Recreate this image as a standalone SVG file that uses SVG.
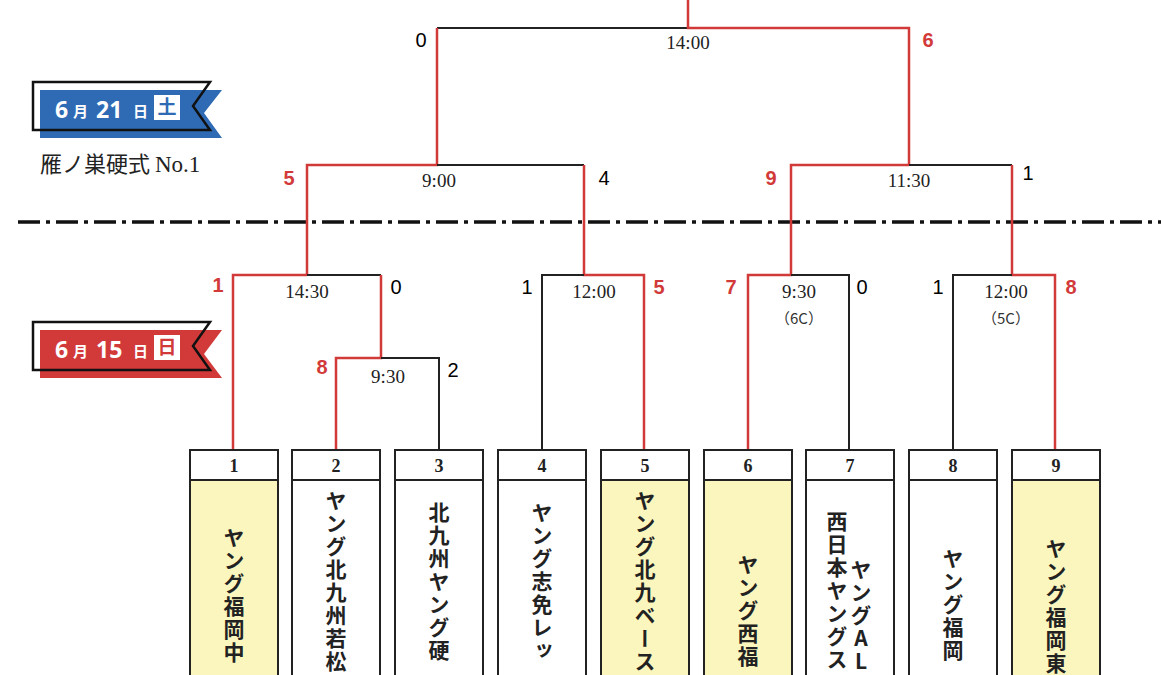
<svg xmlns="http://www.w3.org/2000/svg" width="1161" height="675" viewBox="0 0 1161 675">
<style>
.r{stroke:#d23a3a;stroke-width:2.5;fill:none}
.k{stroke:#222;stroke-width:2;fill:none}
.sc{font-family:"Liberation Sans",sans-serif;font-size:20px;text-anchor:middle}
.sr{fill:#d23a3a;font-weight:bold}
.tm{font-family:"Liberation Serif",serif;font-size:19px;text-anchor:middle;fill:#222}
.cc{font-family:"Noto Sans CJK JP",sans-serif;font-size:15px;text-anchor:middle;fill:#333}
.box{stroke:#222;stroke-width:2}
.num{font-family:"Liberation Serif",serif;font-size:18px;text-anchor:middle;font-weight:bold;fill:#222}
.vt{font-family:"Noto Sans CJK JP",sans-serif;font-size:21px;font-weight:bold;writing-mode:vertical-rl;text-orientation:upright;fill:#222;letter-spacing:2px}
.bn{font-family:"Open Sans","Noto Sans CJK JP",sans-serif;font-weight:bold;fill:#fff}
</style>
<rect width="1161" height="675" fill="#fff"/>
<g id="banner-top">
<path d="M40 90 H222 L204 113 L222 138 H40 Z" fill="#2f6bb5"/>
<path d="M33 82 H210 L193 106 L210 130 H33 Z" fill="none" stroke="#111" stroke-width="2.5"/>
<text class="bn" x="55" y="118" font-size="23">6</text>
<text class="bn" x="73" y="117" font-size="15">月</text>
<text class="bn" x="96" y="118" font-size="23">21</text>
<text class="bn" x="133" y="117" font-size="15">日</text>
<rect x="154" y="95" width="26" height="25" fill="#fff"/>
<text x="167" y="114" font-family="Noto Sans CJK JP,sans-serif" font-weight="bold" font-size="19" fill="#2f6bb5" text-anchor="middle">土</text>
<text x="40" y="172" font-family="Noto Sans CJK JP,serif" font-size="22" fill="#222">雁ノ巣硬式 <tspan font-family="Liberation Serif,serif" font-size="23">No.1</tspan></text>
</g>
<g id="banner-bottom">
<path d="M40 330 H222 L204 354 L222 378 H40 Z" fill="#d23a3a"/>
<path d="M33 322 H210 L193 346 L210 370 H33 Z" fill="none" stroke="#111" stroke-width="2.5"/>
<text class="bn" x="55" y="358" font-size="23">6</text>
<text class="bn" x="73" y="357" font-size="15">月</text>
<text class="bn" x="96" y="358" font-size="23">15</text>
<text class="bn" x="133" y="357" font-size="15">日</text>
<rect x="154" y="335" width="26" height="25" fill="#fff"/>
<text x="167" y="354" font-family="Noto Sans CJK JP,sans-serif" font-weight="bold" font-size="19" fill="#d23a3a" text-anchor="middle">日</text>
</g>
<line x1="18" y1="222" x2="1161" y2="222" stroke="#111" stroke-width="3.5" stroke-dasharray="22 6 4 6"/>
<g id="connectors">
<path class="k" d="M437 28 H688"/>
<path class="r" d="M688 0 V28 H909 V165"/>
<path class="r" d="M437 28 V165 H307 V275"/>
<path class="k" d="M437 165 H584"/>
<path class="r" d="M584 165 V275 H644 V450"/>
<path class="k" d="M584 275 H542 V450"/>
<path class="r" d="M909 165 H791 V275 H748 V450"/>
<path class="k" d="M909 165 H1012"/>
<path class="r" d="M1012 165 V275 H1055 V450"/>
<path class="k" d="M1012 275 H953 V450"/>
<path class="k" d="M791 275 H849 V450"/>
<path class="r" d="M307 275 H233 V450"/>
<path class="k" d="M307 275 H381"/>
<path class="r" d="M381 275 V358 H336 V450"/>
<path class="k" d="M381 358 H439 V450"/>
</g>
<g id="labels">
<text class="sc" x="421" y="47">0</text>
<text class="tm" x="688" y="49">14:00</text>
<text class="sc sr" x="928" y="47">6</text>
<text class="sc sr" x="289" y="185">5</text>
<text class="tm" x="439" y="187">9:00</text>
<text class="sc" x="604" y="185">4</text>
<text class="sc sr" x="771" y="185">9</text>
<text class="tm" x="909" y="187">11:30</text>
<text class="sc" x="1028" y="180">1</text>
<text class="sc sr" x="218" y="292">1</text>
<text class="tm" x="307" y="298">14:30</text>
<text class="sc" x="396" y="294">0</text>
<text class="sc sr" x="322" y="374">8</text>
<text class="tm" x="388" y="383">9:30</text>
<text class="sc" x="453" y="377">2</text>
<text class="sc" x="527" y="294">1</text>
<text class="tm" x="594" y="298">12:00</text>
<text class="sc sr" x="659" y="294">5</text>
<text class="sc sr" x="731" y="294">7</text>
<text class="tm" x="799" y="298">9:30</text>
<text class="cc" x="799" y="324">（6C）</text>
<text class="sc" x="862" y="294">0</text>
<text class="sc" x="938" y="294">1</text>
<text class="tm" x="1006" y="298">12:00</text>
<text class="cc" x="1006" y="324">（5C）</text>
<text class="sc sr" x="1071" y="294">8</text>
</g>
<g id="team1"><rect class="box" x="190" y="450" width="88" height="240" fill="#fbf6bd"/><rect class="box" x="190" y="450" width="88" height="30" fill="#fff"/><text class="num" x="234" y="472">1</text><text class="vt" x="234" y="527">ヤング福岡中</text></g>
<g id="team2"><rect class="box" x="292" y="450" width="88" height="240" fill="#fff"/><rect class="box" x="292" y="450" width="88" height="30" fill="#fff"/><text class="num" x="336" y="472">2</text><text class="vt" x="336" y="490">ヤング北九州若松</text></g>
<g id="team3"><rect class="box" x="395" y="450" width="88" height="240" fill="#fff"/><rect class="box" x="395" y="450" width="88" height="30" fill="#fff"/><text class="num" x="439" y="472">3</text><text class="vt" x="439" y="502">北九州ヤング硬</text></g>
<g id="team4"><rect class="box" x="498" y="450" width="88" height="240" fill="#fff"/><rect class="box" x="498" y="450" width="88" height="30" fill="#fff"/><text class="num" x="542" y="472">4</text><text class="vt" x="542" y="502">ヤング志免レッ</text></g>
<g id="team5"><rect class="box" x="601" y="450" width="88" height="240" fill="#fbf6bd"/><rect class="box" x="601" y="450" width="88" height="30" fill="#fff"/><text class="num" x="645" y="472">5</text><text class="vt" x="645" y="490">ヤング北九ベース</text></g>
<g id="team6"><rect class="box" x="704" y="450" width="88" height="240" fill="#fbf6bd"/><rect class="box" x="704" y="450" width="88" height="30" fill="#fff"/><text class="num" x="748" y="472">6</text><text class="vt" x="748" y="554">ヤング西福</text></g>
<g id="team7"><rect class="box" x="806" y="450" width="88" height="240" fill="#fff"/><rect class="box" x="806" y="450" width="88" height="30" fill="#fff"/><text class="num" x="850" y="472">7</text><text class="vt" x="861" y="559">ヤングAL</text><text class="vt" x="837" y="511">西日本ヤングス</text></g>
<g id="team8"><rect class="box" x="909" y="450" width="88" height="240" fill="#fff"/><rect class="box" x="909" y="450" width="88" height="30" fill="#fff"/><text class="num" x="953" y="472">8</text><text class="vt" x="953" y="548">ヤング福岡</text></g>
<g id="team9"><rect class="box" x="1012" y="450" width="88" height="240" fill="#fbf6bd"/><rect class="box" x="1012" y="450" width="88" height="30" fill="#fff"/><text class="num" x="1056" y="472">9</text><text class="vt" x="1056" y="538">ヤング福岡東</text></g>
</svg>
